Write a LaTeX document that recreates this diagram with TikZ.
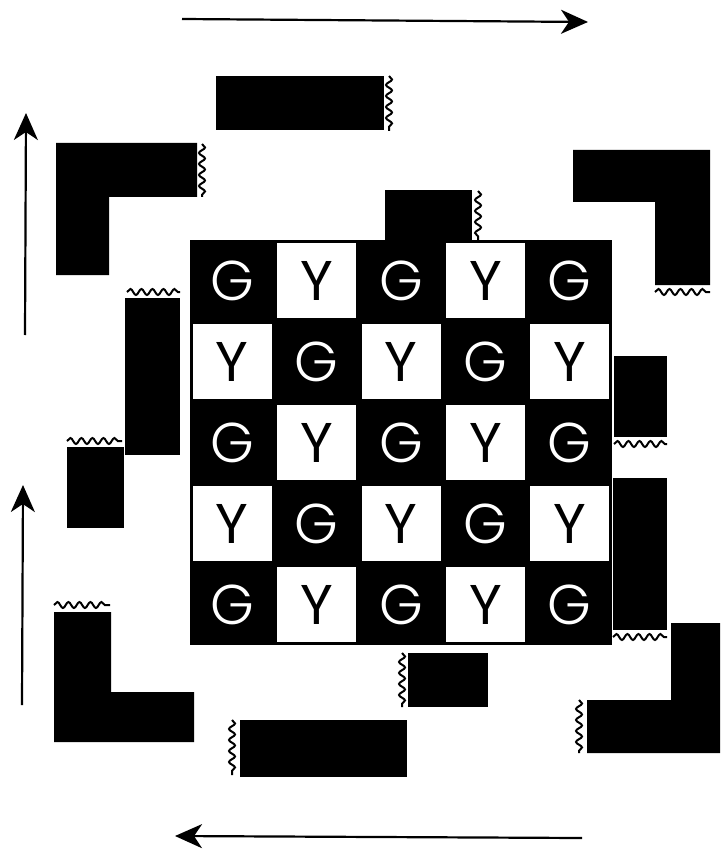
\documentclass[tikz,border=0pt]{standalone}
\usepackage{fontspec}
\setsansfont{Poppins}
\newfontfamily\gfont{Poppins Light}
\usetikzlibrary{arrows.meta,decorations.pathmorphing}
\begin{document}
\begin{tikzpicture}[x=1pt,y=-1pt,
  blk/.style={fill=black,draw=none},
  wav/.style={line width=2pt,decorate,decoration={snake,segment length=11pt,amplitude=3pt}},
  flow/.style={line width=2.2pt,-{Stealth[length=27pt,width=24pt,inset=8pt]}},
  gl/.style={text=white,font=\gfont\fontsize{56}{56}\selectfont,inner sep=0pt},
  yl/.style={text=black,font=\sffamily\fontsize{56}{56}\selectfont,inner sep=0pt},
]
\useasboundingbox (0,0) rectangle (720,850);
% flow arrows
\coordinate (ta) at (182,19); \coordinate (tb) at (588,22);
\coordinate (la) at (25,335); \coordinate (lb) at (26,113);
\coordinate (ma) at (22,705); \coordinate (mb) at (23,485);
\coordinate (ba) at (582,838); \coordinate (bb) at (175,836);
\draw[flow] (ta) -- (tb);
\draw[flow] (la) -- (lb);
\draw[flow] (ma) -- (mb);
\draw[flow] (ba) -- (bb);
% L-shaped pieces
\fill[blk] (56,143) -- (197,143) -- (197,197) -- (109,197) -- (109,275) -- (56,275) -- cycle;
\fill[blk] (573,150) -- (710,150) -- (710,285) -- (655,285) -- (655,202) -- (573,202) -- cycle;
\fill[blk] (671,623) -- (720,623) -- (720,753) -- (587,753) -- (587,700) -- (671,700) -- cycle;
\fill[blk] (54,612) -- (111,612) -- (111,692) -- (194,692) -- (194,742) -- (54,742) -- cycle;
% rectangular pieces
\fill[blk] (216,76) rectangle (384,130);
\fill[blk] (385,190) rectangle (472,246);
\fill[blk] (125,298) rectangle (180,455);
\fill[blk] (67,447) rectangle (124,528);
\fill[blk] (614,356) rectangle (667,437);
\fill[blk] (613,478) rectangle (667,630);
\fill[blk] (408,653) rectangle (488,707);
\fill[blk] (240,720) rectangle (407,777);
% wavy edges
\draw[wav] (202,144) -- (202,197);
\draw[wav] (389,76) -- (389,131);
\draw[wav] (478,191) -- (478,241);
\draw[wav] (655,292) -- (710,292);
\draw[wav] (127,292) -- (180,292);
\draw[wav] (67,441) -- (122,441);
\draw[wav] (614,444) -- (667,444);
\draw[wav] (613,637) -- (667,637);
\draw[wav] (579,700) -- (579,753);
\draw[wav] (402,653) -- (402,707);
\draw[wav] (232,720) -- (232,775);
\draw[wav] (54,605) -- (110,605);
% checkerboard
\fill[blk] (190,240) rectangle (612,645);
\foreach \r in {1,...,5}{
  \foreach \c in {1,...,5}{
    \pgfmathsetmacro{\cx}{190+84.4*(\c-0.5)}
    \pgfmathsetmacro{\cy}{240+81*(\r-0.5)}
    \pgfmathtruncatemacro{\odd}{mod(\r+\c,2)}
    \ifnum\odd=1
      \fill[white] (\cx-39.5,\cy-37.5) rectangle (\cx+39.5,\cy+37.5);
      \node[yl] (cell-\r-\c) at (\cx,\cy) {Y};
    \else
      \node[gl] (cell-\r-\c) at (\cx,\cy) {G};
    \fi
  }
}
\end{tikzpicture}
\end{document}
